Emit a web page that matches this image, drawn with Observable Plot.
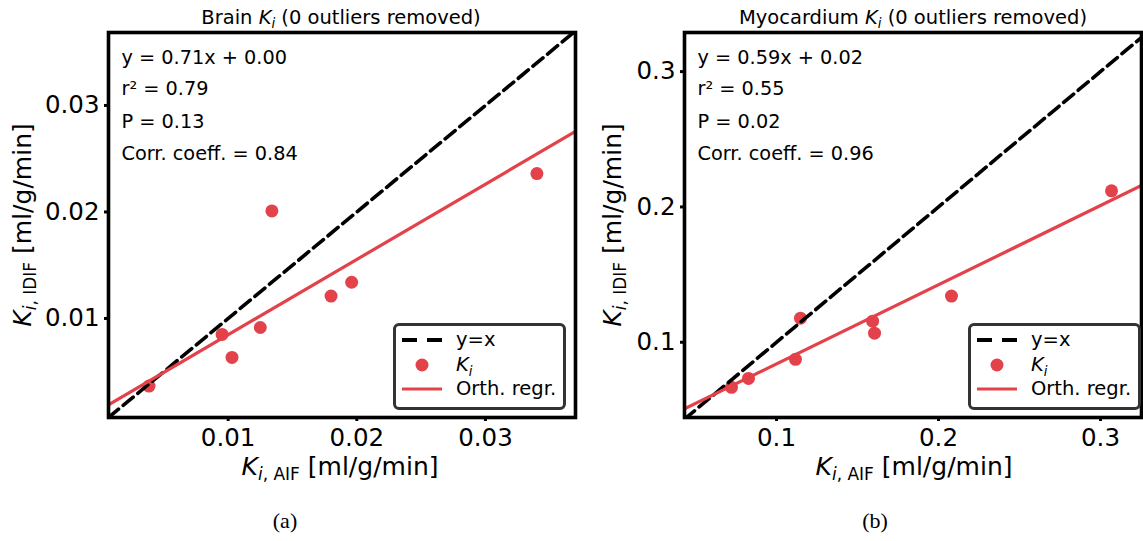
<!DOCTYPE html>
<html>
<head>
<meta charset="utf-8">
<script src="https://cdn.jsdelivr.net/npm/d3@7"></script>
<script src="https://cdn.jsdelivr.net/npm/@observablehq/plot@0.6"></script>
<style>
  html, body { margin: 0; padding: 0; background: #fff; }
  #root { position: relative; width: 1143px; height: 541px; overflow: hidden; background: #fff; font-family: "DejaVu Sans", sans-serif; color: #000; }
  .abs { position: absolute; white-space: nowrap; }
  .title { font-size: 19.5px; transform: translate(-50%, -50%); }
  .xlabel { font-size: 25px; transform: translate(-50%, -50%); }
  .ylabel { font-size: 25px; transform: translate(-50%, -50%) rotate(-90deg); }
  .cap { font-family: "Liberation Serif", "DejaVu Serif", serif; font-size: 22px; transform: translate(-50%, -50%); }
  sub { font-size: 68%; vertical-align: -0.35em; line-height: 0; }
  .legend { position: absolute; border: 3.5px solid #333; border-radius: 6px; background: #fff; box-sizing: border-box; }
  .legend .row { position: absolute; left: 0; height: 24px; font-size: 19.5px; transform: translateY(-50%); white-space: nowrap; line-height: 24px; }
  .legend svg { position: absolute; left: 0; top: 0; }
</style>
</head>
<body>
<div id="root"></div>
<script>
// ---------- data ----------
const red = "#e3424a";

// Brain Ki (panel a)
const brainAIF  = [0.00385, 0.00953, 0.0103, 0.0125, 0.0134, 0.0180, 0.0196, 0.0340];
const brainIDIF = [0.00365, 0.0085, 0.00634, 0.00915, 0.0201, 0.0121, 0.0134, 0.0236];
const brainFit = [0.707, 0.0014];           // slope, intercept
const brainXDomain = [0.0007, 0.0370];
const brainYDomain = [0.0007, 0.03685];
const brainTicks = [0.01, 0.02, 0.03];
const brainTickLabels = ["0.01", "0.02", "0.03"];
const brainStats = ["y = 0.71x + 0.00", "r\u00b2 = 0.79", "P = 0.13", "Corr. coeff. = 0.84"];

// Myocardium Ki (panel b)
const myoAIF  = [0.0722, 0.0827, 0.1117, 0.1148, 0.1593, 0.1605, 0.2080, 0.3068];
const myoIDIF = [0.0667, 0.0733, 0.0874, 0.1178, 0.1156, 0.1067, 0.1341, 0.2119];
const myoFit = [0.585, 0.0255];
const myoXDomain = [0.0432, 0.3253];
const myoYDomain = [0.0444, 0.3289];
const myoTicks = [0.1, 0.2, 0.3];
const myoTickLabels = ["0.1", "0.2", "0.3"];
const myoStats = ["y = 0.59x + 0.02", "r\u00b2 = 0.55", "P = 0.02", "Corr. coeff. = 0.96"];

const statOffsets = [25, 56, 89, 121];

// ---------- drawing ----------
const root = document.getElementById("root");

function panel({xs, ys, fit, xDomain, yDomain, ticks, tickLabels, stats, left, width, marginLeft, marginRight}) {
  const pts = xs.map((x, i) => ({x, y: ys[i]}));
  const lo = Math.min(xDomain[0], yDomain[0]), hi = Math.max(xDomain[1], yDomain[1]);
  const diag = [lo, hi].map(v => ({x: v, y: v}));
  const fitLine = xDomain.map(x => ({x, y: fit[0] * x + fit[1]}));
  const fmt = d => tickLabels[ticks.indexOf(d)];
  const svg = Plot.plot({
    width, height: 470,
    marginLeft, marginRight, marginTop: 32, marginBottom: 53,
    x: {domain: xDomain},
    y: {domain: yDomain},
    style: {fontFamily: "DejaVu Sans", background: "transparent", color: "#000", overflow: "visible"},
    marks: [
      Plot.dot(pts, {x: "x", y: "y", r: 6.5, fill: red, stroke: "none"}),
      Plot.line(diag, {x: "x", y: "y", stroke: "#000", strokeWidth: 3.6, strokeDasharray: "13,6", clip: true}),
      Plot.line(fitLine, {x: "x", y: "y", stroke: red, strokeWidth: 3.2, clip: true}),
      Plot.axisX({ticks, tickFormat: fmt, tickSize: 4, tickPadding: 7, strokeWidth: 3, fontSize: 24.5, label: null}),
      Plot.axisY({ticks, tickFormat: fmt, tickSize: 4, tickPadding: 5, strokeWidth: 3, fontSize: 24.5, label: null}),
      Plot.frame({stroke: "#000", strokeWidth: 3.6}),
      ...stats.map((s, i) => Plot.text([s], {
        text: d => d, frameAnchor: "top-left", dx: 13, dy: statOffsets[i],
        textAnchor: "start", lineAnchor: "middle", fontSize: 19.3, fill: "#000"
      }))
    ]
  });
  svg.style.position = "absolute";
  svg.style.left = left + "px";
  svg.style.top = "0px";
  root.appendChild(svg);
}

panel({xs: brainAIF, ys: brainIDIF, fit: brainFit, xDomain: brainXDomain, yDomain: brainYDomain,
  ticks: brainTicks, tickLabels: brainTickLabels, stats: brainStats,
  left: 0, width: 580, marginLeft: 108, marginRight: 5});
panel({xs: myoAIF, ys: myoIDIF, fit: myoFit, xDomain: myoXDomain, yDomain: myoYDomain,
  ticks: myoTicks, tickLabels: myoTickLabels, stats: myoStats,
  left: 580, width: 563, marginLeft: 104, marginRight: 2});

// ---------- text (titles, axis labels, captions) ----------
function addText(cls, html, x, y) {
  const d = document.createElement("div");
  d.className = "abs " + cls;
  d.innerHTML = html;
  d.style.left = x + "px";
  d.style.top = y + "px";
  root.appendChild(d);
}
const Ki = '<i>K</i><sub><i>i</i></sub>';
addText("title", "Brain " + Ki + " (0 outliers removed)", 341, 17);
addText("title", "Myocardium " + Ki + " (0 outliers removed)", 913, 17);
addText("xlabel", '<i>K</i><sub><i>i</i>, AIF</sub> [ml/g/min]', 340, 466);
addText("xlabel", '<i>K</i><sub><i>i</i>, AIF</sub> [ml/g/min]', 914, 466);
addText("ylabel", '<i>K</i><sub><i>i</i>, IDIF</sub> [ml/g/min]', 22, 225);
addText("ylabel", '<i>K</i><sub><i>i</i>, IDIF</sub> [ml/g/min]', 612, 225);
addText("cap", "(a)", 285, 521);
addText("cap", "(b)", 875, 521);

// ---------- legends ----------
const legendItems = ["y=x", Ki, "Orth. regr."];
function legend(left) {
  const box = document.createElement("div");
  box.className = "legend";
  box.style.left = left + "px";
  box.style.top = "323px";
  box.style.width = "173px";
  box.style.height = "87px";
  const ns = "http://www.w3.org/2000/svg";
  const s = document.createElementNS(ns, "svg");
  s.setAttribute("width", 173); s.setAttribute("height", 87);
  const rows = [17, 42, 66];
  s.innerHTML =
    `<line x1="6" x2="46" y1="${rows[0]-3}" y2="${rows[0]-3}" stroke="#000" stroke-width="3.8" stroke-dasharray="15,10"/>` +
    `<circle cx="26" cy="${rows[1]-3}" r="6.5" fill="${red}"/>` +
    `<line x1="6" x2="46" y1="${rows[2]-3}" y2="${rows[2]-3}" stroke="${red}" stroke-width="3.2"/>`;
  box.appendChild(s);
  legendItems.forEach((t, i) => {
    const r = document.createElement("div");
    r.className = "row";
    r.style.left = "60px";
    r.style.top = (rows[i] - 3) + "px";
    r.innerHTML = t;
    box.appendChild(r);
  });
  root.appendChild(box);
}
legend(393);
legend(968);
</script>
</body>
</html>
